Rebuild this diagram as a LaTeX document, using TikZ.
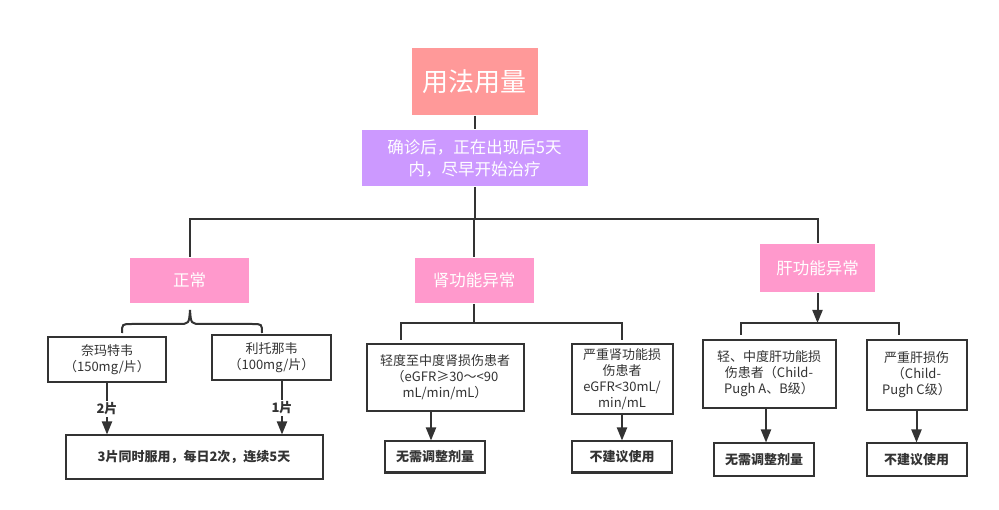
\documentclass[tikz,border=0pt]{standalone}
\usepackage{fontspec}
\setmainfont{Noto Sans CJK SC}
\usetikzlibrary{arrows.meta}
\definecolor{ink}{HTML}{333333}
\definecolor{salmon}{HTML}{FF9999}
\definecolor{lilac}{HTML}{CC99FF}
\definecolor{rose}{HTML}{FF99CC}
\begin{document}
\begin{tikzpicture}[x=1pt,y=-1pt,>={Triangle[width=10pt,length=13pt]},line width=2pt,draw=ink,
    every node/.style={inner sep=0pt,align=center,text=ink},
    tag/.style={fill=rose,text=white,minimum height=45pt,font=\fontsize{16.5}{20}\selectfont},
    box/.style={draw=ink,font=\fontsize{13}{16}\selectfont},
    res/.style={draw=ink,minimum width=100pt,font=\bfseries\fontsize{13}{16}\selectfont},
    lbl/.style={fill=white,inner sep=2pt,font=\bfseries\fontsize{13}{16}\selectfont}]

  \useasboundingbox[fill=white] (0,0) rectangle (999,510);

  \node[fill=salmon,text=white,minimum width=126pt,minimum height=67pt,font=\fontsize{26}{30}\selectfont] (top) at (474.5,81.5) {用法用量};
  \node[fill=lilac,text=white,minimum width=226pt,minimum height=56pt,font=\fontsize{16.5}{22}\selectfont] (start) at (474.5,158) {确诊后，正在出现后5天\\内，尽早开始治疗};

  \node[tag,minimum width=119pt] (n0) at (189.5,280.5) {正常};
  \node[tag,minimum width=119pt] (n1) at (474,280.5) {肾功能异常};
  \node[tag,minimum width=115pt,minimum height=48pt] (n2) at (817.5,268) {肝功能异常};

  % normal
  \node[box,minimum width=118pt,minimum height=45pt] (d1) at (107,360) {奈玛特韦\\（150mg/片）};
  \node[box,minimum width=119pt,minimum height=45pt] (d2) at (271.5,358) {利托那韦\\（100mg/片）};
  \node[res,minimum width=257pt,minimum height=43pt] (dose) at (194,457) {3片同时服用，每日2次，连续5天};

  % kidney
  \node[box,minimum width=157pt,minimum height=67pt] (k1) at (445,377.5) {轻度至中度肾损伤患者\\（eGFR≥30～<90\\mL/min/mL）};
  \node[box,minimum width=101pt,minimum height=70pt] (k2) at (622,379) {严重肾功能损\\伤患者\\eGFR<30mL/\\min/mL};
  \node[res,minimum height=31pt] (k1r) at (435,457) {无需调整剂量};
  \node[res,minimum height=31pt] (k2r) at (622,457) {不建议使用};

  % liver
  \node[box,minimum width=133pt,minimum height=68pt] (l1) at (769,374) {轻、中度肝功能损\\伤患者（Child-\\Pugh A、B级）};
  \node[box,minimum width=100pt,minimum height=70pt] (l2) at (916.5,375) {严重肝损伤\\（Child-\\Pugh C级）};
  \node[res,minimum height=32pt] (l1r) at (764,459.5) {无需调整剂量};
  \node[res,minimum height=32pt] (l2r) at (916.5,459.5) {不建议使用};

  \coordinate (j) at (474.5,219);
  \coordinate (kj) at (474,323);
  \coordinate (ka) at (401,340);
  \coordinate (kb) at (622,340);
  \coordinate (lj) at (817.5,323);
  \coordinate (la) at (741,335);
  \coordinate (lb) at (899,335);

  \draw (top) -- (start);
  \draw (start) -- (j);
  \draw (n0.north) -- (n0.north |- j) -- (n2.north |- j) -- (n2.north);
  \draw (n1.north) -- (n1.north |- j);

  \draw (190,310) .. controls (191,324) .. (202,324) -- (252,324) .. controls (262,324) .. (262,333);
  \draw (190,310) .. controls (189,324) .. (178,324) -- (132,324) .. controls (122,324) .. (122,333);

  \draw[->] (d1.south) -- node[lbl] {2片} (d1.south |- dose.north);
  \draw[->] ([xshift=10.5pt]d2.south) -- node[lbl] {1片} ([xshift=10.5pt]d2.south |- dose.north);

  \draw (n1.south) -- (kj);
  \draw (ka) -- (ka |- kj) -- (kb |- kj) -- (kb);
  \draw[->] ([xshift=-14pt]k1.south) -- ([xshift=-14pt]k1.south |- k1r.north);
  \draw[->] (k2.south) -- (k2r.north);

  \draw[->] (n2.south) -- (lj);
  \draw (la) -- (la |- lj) -- (lb |- lj) -- (lb);
  \draw[->] ([xshift=-3pt]l1.south) -- ([xshift=-3pt]l1.south |- l1r.north);
  \draw[->] (l2.south) -- (l2r.north);

\end{tikzpicture}
\end{document}
